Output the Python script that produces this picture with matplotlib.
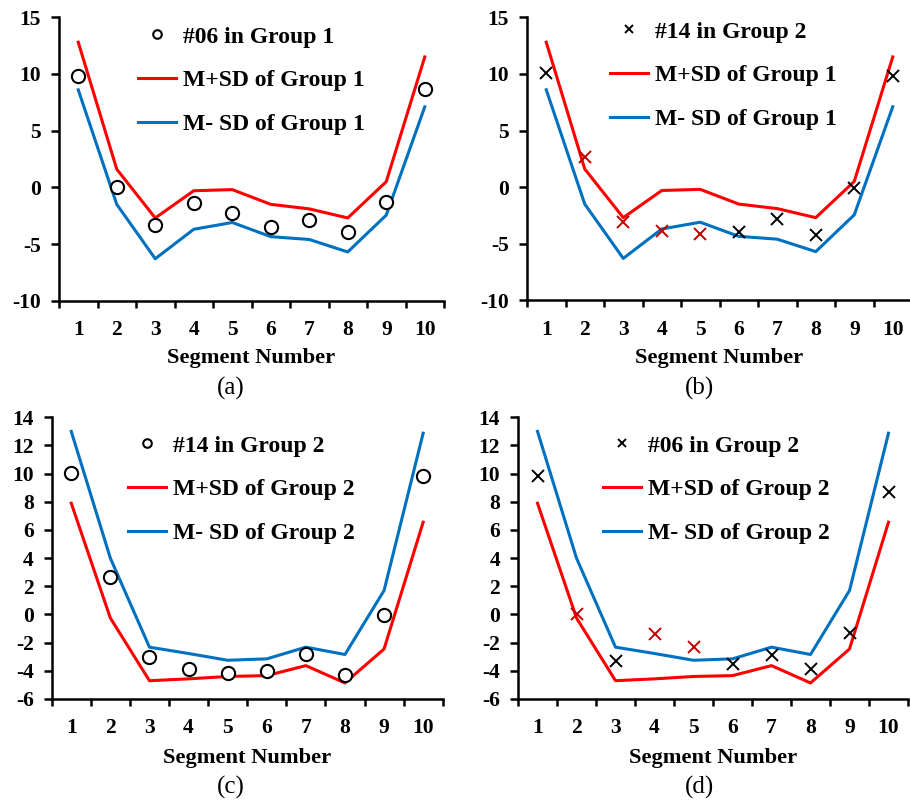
import matplotlib
matplotlib.use("Agg")
import matplotlib.pyplot as plt
import numpy as np

plt.rcParams['font.family'] = ['Liberation Serif', 'DejaVu Serif']
plt.rcParams['axes.unicode_minus'] = False

segments = [1, 2, 3, 4, 5, 6, 7, 8, 9, 10]

g1_plus = [12.8, 1.6, -2.7, -0.3, -0.2, -1.5, -1.9, -2.7, 0.5, 11.5]
g1_minus = [8.6, -1.5, -6.3, -3.7, -3.1, -4.35, -4.6, -5.7, -2.45, 7.1]

g2_plus = [7.9, -0.25, -4.7, -4.57, -4.4, -4.34, -3.63, -4.86, -2.45, 6.55]
g2_minus = [13.0, 4.0, -2.32, -2.77, -3.25, -3.15, -2.32, -2.84, 1.7, 12.87]

s06 = [9.8, 0.0, -3.3, -1.4, -2.3, -3.5, -2.9, -3.9, -1.3, 8.7]
s14 = [10.05, 2.65, -3.05, -3.9, -4.15, -4.0, -2.8, -4.27, -0.05, 9.8]

# which crosses are drawn in red (outside the band of the reference group)
b_red = [False, True, True, True, True, False, False, False, False, False]
d_red = [False, True, False, True, True, False, False, False, False, False]

panels = [
    dict(rect=[59/910, (802-300.7)/802, 385/910, 283.4/802], ylim=(-10, 15), yt=np.arange(-10, 16, 5),
         plus=g1_plus, minus=g1_minus, pts=s06, marker='o', red=None,
         labels=['#06 in Group 1', 'M+SD of Group 1', 'M- SD of Group 1'],
         leg=(183, 39), tag='(a)', tagx=231, tagy=388, xl_y=358),
    dict(rect=[527/910, (802-300.3)/802, 385/910, 283.0/802], ylim=(-10, 15), yt=np.arange(-10, 16, 5),
         plus=g1_plus, minus=g1_minus, pts=s14, marker='x', red=b_red,
         labels=['#14 in Group 2', 'M+SD of Group 1', 'M- SD of Group 1'],
         leg=(655, 34), tag='(b)', tagx=700, tagy=388, xl_y=358),
    dict(rect=[51.7/910, (802-699)/802, 391/910, 281.7/802], ylim=(-6, 14), yt=np.arange(-6, 15, 2),
         plus=g2_plus, minus=g2_minus, pts=s14, marker='o', red=None,
         labels=['#14 in Group 2', 'M+SD of Group 2', 'M- SD of Group 2'],
         leg=(173, 448), tag='(c)', tagx=231, tagy=787, xl_y=758),
    dict(rect=[518/910, (802-699)/802, 390/910, 281.7/802], ylim=(-6, 14), yt=np.arange(-6, 15, 2),
         plus=g2_plus, minus=g2_minus, pts=s06, marker='x', red=d_red,
         labels=['#06 in Group 2', 'M+SD of Group 2', 'M- SD of Group 2'],
         leg=(648, 448), tag='(d)', tagx=700, tagy=787, xl_y=758),
]

RED = '#FF0000'
BLUE = '#0070C0'
XRED = '#C00000'

fig = plt.figure(figsize=(9.1, 8.02), dpi=100)

for p in panels:
    ax = fig.add_axes(p['rect'])
    x = np.array(segments)
    if p['marker'] == 'o':
        h0, = ax.plot(x, p['pts'], linestyle='none', marker='o', markersize=9.5,
                      markerfacecolor='white', markeredgecolor='black', markeredgewidth=1.5, zorder=4)
    else:
        cols = [XRED if r else 'black' for r in p['red']]
        for xi, yi, c in zip(x, p['pts'], cols):
            ax.plot([xi], [yi], linestyle='none', marker='x', markersize=8, markeredgewidth=1.4,
                    color=c, zorder=4)
        h0, = ax.plot([], [], linestyle='none', marker='x', markersize=8, markeredgewidth=1.4, color='black')
    h1, = ax.plot(x, p['plus'], color=RED, linewidth=2.2, zorder=2)
    h2, = ax.plot(x, p['minus'], color=BLUE, linewidth=2.2, zorder=2)

    ax.set_xlim(0.5, 10.5)
    ax.set_ylim(*p['ylim'])
    ax.set_yticks(p['yt'])
    ax.set_yticklabels([str(v) for v in p['yt']])
    ax.set_xticks(x)
    ax.set_xticklabels([str(v) for v in segments])
    ax.set_xticks(np.arange(0.5, 11, 1.0), minor=True)
    ax.tick_params(axis='x', which='major', length=0, pad=14, labelsize=15.5)
    ax.tick_params(axis='x', which='minor', length=5, width=1.8, direction='out')
    ax.tick_params(axis='y', which='major', length=6, width=1.8, direction='out', pad=7, labelsize=15.5)
    for lab in ax.get_xticklabels() + ax.get_yticklabels():
        lab.set_fontweight('bold')
    for s in ['top', 'right']:
        ax.spines[s].set_visible(False)
    for s in ['left', 'bottom']:
        ax.spines[s].set_linewidth(1.8)
        ax.spines[s].set_color('black')
    ax.spines['left'].set_zorder(5)
    ax.spines['bottom'].set_zorder(5)

    # x label
    bottom_px = 802 - p['rect'][1] * 802
    h_px = p['rect'][3] * 802
    ax.set_xlabel('Segment Number', fontsize=16.2, fontweight='bold', va='center')
    ax.xaxis.set_label_coords(0.5, (bottom_px - p['xl_y']) / h_px)

    # legend
    lx_px, ly_px = p['leg']
    left_px = p['rect'][0] * 910
    w_px = p['rect'][2] * 910
    leg = ax.legend([h0, h1, h2], p['labels'], frameon=False,
                    prop=dict(weight='bold', size=17), handlelength=1.6, handletextpad=0.3,
                    labelspacing=0.95, markerscale=0.65, loc='upper left',
                    borderaxespad=0, borderpad=0,
                    bbox_to_anchor=((lx_px - 45 - left_px) / w_px, (bottom_px - (ly_px - 13)) / h_px))

    fig.text(p['tagx'] / 910, (802 - p['tagy']) / 802, p['tag'], ha='center', va='center', fontsize=18)

fig.savefig('out.png', dpi=100)
